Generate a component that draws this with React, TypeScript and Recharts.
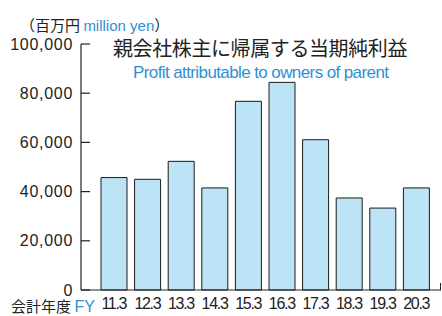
import { BarChart, Bar, XAxis, YAxis } from 'recharts';

const years = ['11.3', '12.3', '13.3', '14.3', '15.3', '16.3', '17.3', '18.3', '19.3', '20.3'];
const profit = [45700, 45000, 52300, 41500, 76700, 84400, 61100, 37400, 33300, 41500];
const yTicks = [0, 20000, 40000, 60000, 80000, 100000];

const data = years.map((fy, i) => ({ fy, profit: profit[i] }));

const sans = '"Liberation Sans", Arial, Helvetica, sans-serif';
const cjk = '"Noto Sans CJK JP", "Noto Sans", sans-serif';
const blue = '#2f8fd3';

export default function App() {
  return (
    <div style={{ position: 'absolute', left: 0, top: 0, width: 442, height: 316, background: '#fff', overflow: 'hidden' }}>
      <BarChart width={442} height={316} data={data} margin={{ top: 44, right: 1, left: 0, bottom: 0 }} barSize={26}>
        <XAxis
          dataKey="fy"
          height={26}
          padding={{ left: 16, right: 8 }}
          axisLine={{ stroke: '#222', strokeWidth: 1.2 }}
          tickLine={false}
          tickSize={0}
          tickMargin={8}
          interval={0}
          tick={{ fill: '#222', fontSize: 16, fontFamily: sans, letterSpacing: -1.3 }}
        />
        <YAxis
          width={81}
          domain={[0, 100000]}
          ticks={yTicks}
          interval={0}
          axisLine={{ stroke: '#222', strokeWidth: 1.2 }}
          tickLine={{ stroke: '#222', strokeWidth: 1.2 }}
          tickSize={-9}
          tickMargin={17}
          tickFormatter={(v: number) => v.toLocaleString('en-US')}
          tick={{ fill: '#222', fontSize: 16, fontFamily: sans, letterSpacing: 0.7 }}
        />
        <Bar dataKey="profit" fill="#bde3f7" stroke="#1a1a1a" strokeWidth={1} isAnimationActive={false} />
      </BarChart>

      <div style={{ position: 'absolute', left: 440, top: 283, width: 1.2, height: 7, background: '#222' }} />

      <div style={{ position: 'absolute', left: 20, top: 16, whiteSpace: 'nowrap', fontSize: 15, lineHeight: '18px', color: '#222', fontFamily: cjk }}>
        （百万円 <span style={{ color: blue, fontFamily: sans }}>million yen</span>）
      </div>

      <div style={{ position: 'absolute', left: 113, top: 38, whiteSpace: 'nowrap', fontSize: 20, lineHeight: '20px', color: '#222', fontFamily: cjk, letterSpacing: -0.4 }}>
        親会社株主に帰属する当期純利益
      </div>

      <div style={{ position: 'absolute', left: 133, top: 64, whiteSpace: 'nowrap', fontSize: 17, lineHeight: '17px', color: blue, fontFamily: sans, letterSpacing: -0.6 }}>
        Profit attributable to owners of parent
      </div>

      <div style={{ position: 'absolute', left: 11, top: 298, whiteSpace: 'nowrap', fontSize: 15, lineHeight: '16px', color: '#222', fontFamily: cjk }}>
        会計年度 <span style={{ color: blue, fontFamily: sans, fontSize: 16 }}>FY</span>
      </div>
    </div>
  );
}
